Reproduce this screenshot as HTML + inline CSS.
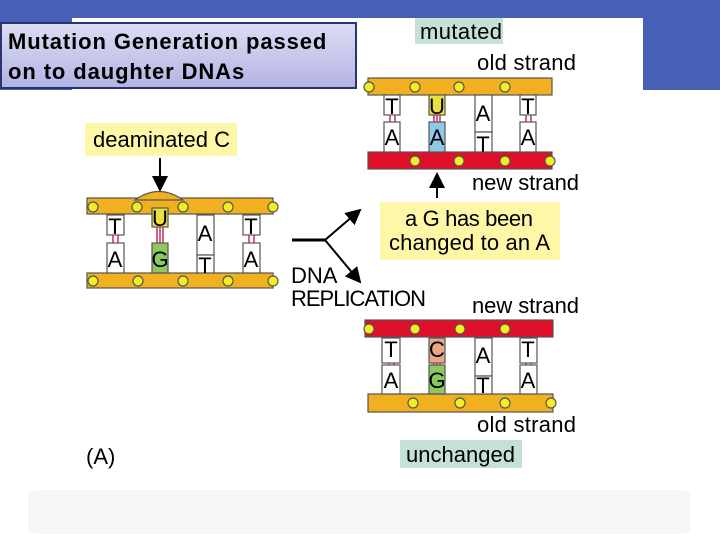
<!DOCTYPE html><html><head><style>
body{margin:0;width:720px;height:540px;overflow:hidden;background:#fff;font-family:"Liberation Sans",sans-serif;position:relative}
.band{position:absolute;left:0;top:0;width:720px;height:90px;background:#4560b4}
.foot{position:absolute;left:28px;top:490px;width:662px;height:44px;border-radius:6px;background:#f6f6f8}
svg{position:absolute;left:0;top:0}
.title{position:absolute;left:0;top:22px;width:357px;height:67px;border:2px solid #2a3570;background:linear-gradient(#dcdcf4,#b4b4e4);font-size:22px;font-weight:bold;line-height:30px;padding:3px 0 0 6px;box-sizing:border-box;color:#000;letter-spacing:0.9px}
</style></head><body>
<div class="band"></div>
<div class="foot"></div>
<svg width="720" height="540" font-family="Liberation Sans, sans-serif">
<rect x="72" y="18" width="571" height="470" fill="#fff"/>
<defs>
<marker id="ah" markerWidth="8" markerHeight="8" refX="7" refY="4" orient="auto"><path d="M0,0L8,4L0,8z" fill="#000"/></marker>
</defs>
<g font-size="22">
<rect x="415" y="18" width="88" height="26" fill="#c5e0d5"/><text x="420" y="39" textLength="82">mutated</text>
<text x="477" y="70" textLength="99">old strand</text>
<text x="472" y="190" textLength="107">new strand</text>
<rect x="85" y="123" width="152" height="33" fill="#fff7a8"/><text x="93" y="147" textLength="137">deaminated C</text>
<rect x="380" y="202" width="180" height="58" fill="#fff7a8"/><text x="405" y="226" textLength="128">a G has been</text><text x="389" y="250" textLength="161">changed to an A</text>
<text x="291" y="283">DNA</text><text x="291" y="306" textLength="135">REPLICATION</text>
<text x="472" y="313" textLength="107">new strand</text>
<text x="477" y="432" textLength="99">old strand</text>
<rect x="400" y="440" width="122" height="28" fill="#c5e0d5"/><text x="406" y="462" textLength="109">unchanged</text>
<text x="86" y="464">(A)</text>
</g>
<line x1="160" y1="158" x2="160" y2="190" stroke="#000" stroke-width="2" marker-end="url(#ah)"/>
<line x1="437" y1="198" x2="437" y2="174" stroke="#000" stroke-width="2" marker-end="url(#ah)"/>
<path d="M292,240H325" stroke="#000" stroke-width="3"/>
<line x1="325" y1="240" x2="360" y2="210" stroke="#000" stroke-width="2" marker-end="url(#ah)"/>
<line x1="325" y1="240" x2="360" y2="282" stroke="#000" stroke-width="2" marker-end="url(#ah)"/>
<g stroke="#555" stroke-width="1.2">
<rect x="87" y="198" width="186" height="16" fill="#f0b020"/>
<path d="M135,200Q159,183 183,200Z" fill="#f0b020"/>
<rect x="87" y="273" width="186" height="15" fill="#f0b020"/>
<rect x="107" y="215" width="17" height="20" fill="#fff"/><rect x="107" y="243" width="17" height="30" fill="#fff"/>
<rect x="152" y="208" width="16" height="19" fill="#e8e040"/><rect x="152" y="243" width="16" height="30" fill="#8cc860"/>
<rect x="197" y="215" width="17" height="40" fill="#fff"/><rect x="197" y="255" width="17" height="18" fill="#fff"/>
<rect x="243" y="215" width="17" height="20" fill="#fff"/><rect x="243" y="243" width="17" height="30" fill="#fff"/>
<g fill="#f4ee20"><circle cx="93" cy="207" r="5"/><circle cx="137" cy="207" r="5"/><circle cx="183" cy="207" r="5"/><circle cx="228" cy="207" r="5"/><circle cx="273" cy="207" r="5"/>
<circle cx="93" cy="281" r="5"/><circle cx="138" cy="281" r="5"/><circle cx="183" cy="281" r="5"/><circle cx="228" cy="281" r="5"/><circle cx="273" cy="281" r="5"/></g>
<rect x="368" y="78" width="184" height="17" fill="#f0b020"/>
<rect x="368" y="152" width="184" height="17" fill="#e0102a"/>
<rect x="384" y="95" width="16" height="20" fill="#fff"/><rect x="384" y="122" width="16" height="30" fill="#fff"/>
<rect x="429" y="95" width="16" height="20" fill="#e8e040"/><rect x="429" y="122" width="16" height="30" fill="#90c8e8"/>
<rect x="475" y="95" width="17" height="37" fill="#fff"/><rect x="475" y="132" width="17" height="20" fill="#fff"/>
<rect x="520" y="95" width="16" height="20" fill="#fff"/><rect x="520" y="122" width="16" height="30" fill="#fff"/>
<g fill="#f4ee20"><circle cx="369" cy="87" r="5"/><circle cx="415" cy="87" r="5"/><circle cx="459" cy="87" r="5"/><circle cx="505" cy="87" r="5"/>
<circle cx="415" cy="161" r="5"/><circle cx="459" cy="161" r="5"/><circle cx="505" cy="161" r="5"/><circle cx="550" cy="161" r="5"/></g>
<rect x="365" y="320" width="188" height="17" fill="#e0102a"/>
<rect x="368" y="394" width="185" height="18" fill="#f0b020"/>
<rect x="382" y="338" width="18" height="25" fill="#fff"/><rect x="382" y="365" width="18" height="29" fill="#fff"/>
<rect x="429" y="338" width="16" height="25" fill="#e8a888"/><rect x="429" y="365" width="16" height="29" fill="#8cc860"/>
<rect x="475" y="338" width="17" height="38" fill="#fff"/><rect x="475" y="376" width="17" height="18" fill="#fff"/>
<rect x="520" y="338" width="17" height="25" fill="#fff"/><rect x="520" y="365" width="17" height="29" fill="#fff"/>
<g fill="#f4ee20"><circle cx="369" cy="329" r="5"/><circle cx="415" cy="329" r="5"/><circle cx="460" cy="329" r="5"/><circle cx="505" cy="329" r="5"/>
<circle cx="413" cy="403" r="5"/><circle cx="460" cy="403" r="5"/><circle cx="505" cy="403" r="5"/><circle cx="551" cy="403" r="5"/></g>
</g>
<g stroke="#c03060" stroke-width="1.5">
<path d="M113,235v8M118,235v8M157,227v16M160,227v16M163,227v16"/>
<path d="M249,235v8M254,235v8"/>
<path d="M390,115v7M395,115v7M434,115v7M437,115v7M440,115v7M526,115v7M531,115v7"/>
<path d="M389,363v2M394,363v2M434,363v2M437,363v2M440,363v2M526,363v2M531,363v2"/>
</g>
<g font-size="22" text-anchor="middle" fill="#000">
<text x="115" y="234">T</text><text x="115" y="267">A</text><text x="160" y="226">U</text><text x="160" y="267">G</text>
<text x="205" y="241">A</text><text x="205" y="273">T</text><text x="251" y="234">T</text><text x="251" y="267">A</text>
<text x="392" y="114">T</text><text x="392" y="145">A</text><text x="437" y="114">U</text><text x="437" y="145">A</text>
<text x="483" y="121">A</text><text x="483" y="152">T</text><text x="528" y="114">T</text><text x="528" y="145">A</text>
<text x="391" y="357">T</text><text x="391" y="388">A</text><text x="437" y="357">C</text><text x="437" y="388">G</text>
<text x="483" y="363">A</text><text x="483" y="393">T</text><text x="528" y="357">T</text><text x="528" y="388">A</text>
</g>
</svg>
<div class="title">Mutation Generation passed<br>on to daughter DNAs</div>
</body></html>
